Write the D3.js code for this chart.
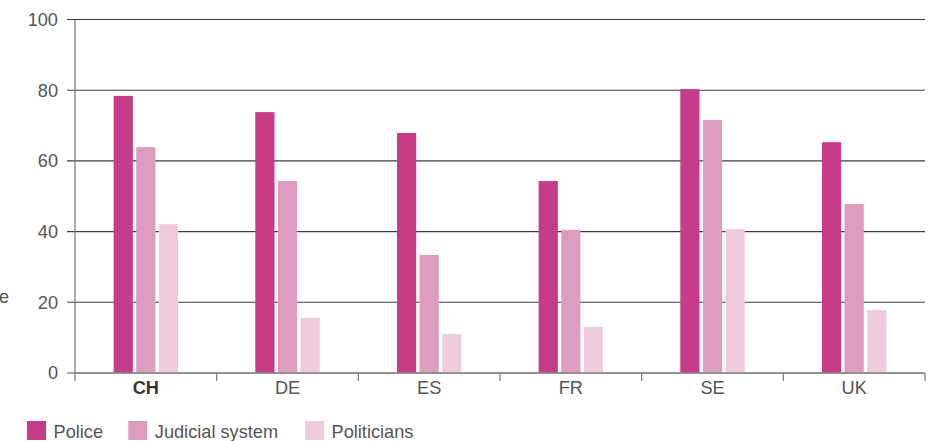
<!DOCTYPE html>
<html>
<head>
<meta charset="utf-8">
<script src="https://cdn.jsdelivr.net/npm/d3@7"></script>
<style>
  html, body { margin: 0; padding: 0; background: #fff; }
  svg { display: block; }
  text { font-family: "Liberation Sans", Arial, sans-serif; }
</style>
</head>
<body>
<svg id="chart" width="934" height="441"></svg>
<script>
const categories = ["CH", "DE", "ES", "FR", "SE", "UK"];
const seriesNames = ["Police", "Judicial system", "Politicians"];
const police = [78.4, 73.8, 67.9, 54.3, 80.3, 65.3];
const judicial = [63.9, 54.3, 33.4, 40.5, 71.6, 47.8];
const politicians = [42.1, 15.6, 11.0, 13.0, 40.7, 17.8];
const yTicks = [0, 20, 40, 60, 80, 100];
const colors = ["#c63c89", "#dc9cbf", "#eecadc"];
const yTitle = "Confidence";

(function () {
const seriesValues = [police, judicial, politicians];
const data = categories.map((c, i) => ({
  cat: c,
  values: seriesNames.map((s, j) => ({ key: s, value: seriesValues[j][i], color: colors[j] }))
}));

const svg = d3.select("#chart");
const mLeft = 75, mRight = 925, mTop = 19.5, mBottom = 373;
const fs = 18.2;

const x = d3.scaleBand().domain(categories).range([mLeft, mRight]).padding(0);
const bw = x.bandwidth();
const x1 = d3.scaleBand().domain(seriesNames).range([bw / 2 - 32.2, bw / 2 + 32.2]).paddingInner(0.15);
const y = d3.scaleLinear().domain([0, 100]).range([mBottom, mTop]);

// gridlines
svg.append("g").selectAll("line")
  .data(yTicks)
  .join("line")
  .attr("x1", mLeft - 8).attr("x2", mRight)
  .attr("y1", d => y(d)).attr("y2", d => y(d))
  .attr("stroke", d => d === 0 ? "#8a8a8a" : "#3c3c3c")
  .attr("stroke-width", d => d === 0 ? 1.6 : 1.1);

// y axis labels
const yAxis = svg.append("g")
  .attr("transform", `translate(${mLeft},0)`)
  .call(d3.axisLeft(y).tickValues(yTicks).tickSize(0).tickPadding(17));
yAxis.select(".domain").remove();
yAxis.selectAll("text")
  .attr("font-size", fs)
  .attr("fill", "#555")
  .attr("font-family", "Liberation Sans, Arial, sans-serif");

// y axis vertical line
svg.append("line")
  .attr("x1", mLeft).attr("x2", mLeft)
  .attr("y1", y(100)).attr("y2", mBottom + 8)
  .attr("stroke", "#777").attr("stroke-width", 1.2);

// bars
const groups = svg.append("g").selectAll("g")
  .data(data)
  .join("g")
  .attr("transform", d => `translate(${x(d.cat)},0)`);
groups.selectAll("rect")
  .data(d => d.values)
  .join("rect")
  .attr("x", d => x1(d.key))
  .attr("width", x1.bandwidth())
  .attr("y", d => y(d.value))
  .attr("height", d => y(0) - y(d.value))
  .attr("fill", d => d.color);

// redraw baseline over bars
svg.append("line")
  .attr("x1", mLeft).attr("x2", mRight)
  .attr("y1", y(0)).attr("y2", y(0))
  .attr("stroke", "#8a8a8a").attr("stroke-width", 1.6);

// boundary ticks
const bounds = categories.map(c => x(c)).concat([x(categories[categories.length - 1]) + bw]);
svg.append("g").selectAll("line")
  .data(bounds.slice(1))
  .join("line")
  .attr("x1", d => d).attr("x2", d => d)
  .attr("y1", mBottom).attr("y2", mBottom + 8)
  .attr("stroke", "#777").attr("stroke-width", 1.2);

// x axis labels
const xAxis = svg.append("g")
  .attr("transform", `translate(0,${mBottom})`)
  .call(d3.axisBottom(x).tickSize(0).tickPadding(8));
xAxis.select(".domain").remove();
xAxis.selectAll("text")
  .attr("font-size", fs)
  .attr("font-family", "Liberation Sans, Arial, sans-serif")
  .attr("font-weight", d => d === "CH" ? "bold" : "normal")
  .attr("fill", d => d === "CH" ? "#333" : "#555");

// y title, cut off at the left edge as in the reference
svg.append("text")
  .attr("x", 9).attr("y", 303)
  .attr("text-anchor", "end")
  .attr("font-size", fs)
  .attr("fill", "#555")
  .text(yTitle);

// legend
const legendX = [27, 128.3, 305];
const leg = svg.append("g").selectAll("g")
  .data(seriesNames)
  .join("g")
  .attr("transform", (d, i) => `translate(${legendX[i]},421)`);
leg.append("rect")
  .attr("width", 19).attr("height", 19)
  .attr("fill", (d, i) => colors[i]);
leg.append("text")
  .attr("x", 26.5).attr("y", 16.8)
  .attr("font-size", fs)
  .attr("fill", "#555")
  .text(d => d);
})();
</script>
</body>
</html>
